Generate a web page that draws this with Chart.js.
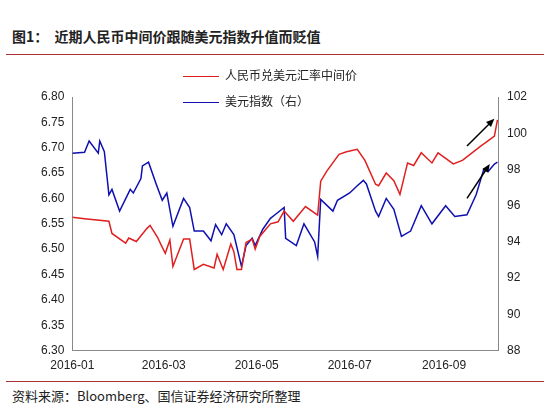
<!DOCTYPE html>
<html><head><meta charset="utf-8">
<script src="https://cdn.jsdelivr.net/npm/chart.js@4"></script>
<style>
body{margin:0;width:550px;height:413px;background:#fff;font-family:"Noto Sans CJK SC",sans-serif;position:relative;overflow:hidden}
#title{position:absolute;left:12px;top:26px;font-size:14px;font-weight:bold;color:#222}
#tl{position:absolute;left:6px;right:6px;top:54px;border-top:1.5px solid #a33}
#src{position:absolute;left:12px;top:386px;font-size:13px;color:#222}
#bl{position:absolute;left:6px;right:6px;top:381px;border-top:1px solid #a33}
#wrap{position:absolute;left:0;top:58px;width:530px;height:322px}
.lg{position:absolute;font-size:12px;color:#222}
.lg span{display:inline-block;width:36px;height:0;border-top:1.5px solid;vertical-align:middle;margin-right:6px}
</style></head><body>
<div id="title">图1：&nbsp;&nbsp;近期人民币中间价跟随美元指数升值而贬值</div>
<div id="tl"></div>
<div id="wrap"><canvas id="chart"></canvas></div>
<div class="lg" style="left:183px;top:66px"><span style="border-color:#e02020"></span>人民币兑美元汇率中间价</div>
<div class="lg" style="left:183px;top:92px"><span style="border-color:#1010b0"></span>美元指数（右）</div>
<div id="bl"></div>
<div id="src">资料来源：Bloomberg、国信证券经济研究所整理</div>
<script>
// days since 2016-01-01
const cnyDays = [0,8,24,26,35,37,42,49,51,56,58,61,64,66,73,77,80,86,93,95,99,104,106,108,111,114,118,120,123,130,135,139,145,153,161,163,167,175,180,187,192,199,201,206,211,215,220,224,229,236,240,250,256,268,273,277,279];
const cnyValues = [6.563,6.560,6.555,6.531,6.512,6.522,6.515,6.541,6.547,6.523,6.510,6.492,6.518,6.466,6.520,6.520,6.460,6.470,6.463,6.490,6.460,6.510,6.495,6.460,6.460,6.513,6.520,6.500,6.525,6.550,6.554,6.575,6.555,6.584,6.567,6.634,6.654,6.687,6.692,6.697,6.675,6.628,6.625,6.650,6.635,6.608,6.670,6.665,6.690,6.670,6.690,6.668,6.675,6.703,6.714,6.723,6.755];
const dxyDays = [0,8,11,17,18,21,24,26,31,38,40,45,46,50,55,59,62,66,73,77,80,86,91,94,98,101,106,111,114,118,120,125,130,133,139,140,147,152,159,161,163,171,174,182,187,191,193,199,201,206,211,216,222,229,236,245,251,259,265,270,273,277,279];
const dxyValues = [98.9,98.95,99.57,98.9,99.57,98.98,96.6,96.9,95.7,96.9,96.7,97.5,98.2,98.4,97.2,96.3,96.7,94.86,96.4,95.9,94.6,94.6,94.06,94.96,94.4,95.0,94.4,92.65,93.8,94.2,93.8,94.7,95.3,95.5,95.9,94.2,93.8,95.0,94.0,93.2,96.35,95.7,96.3,96.7,97.1,97.4,97.2,95.7,95.4,96.4,95.8,94.3,94.6,96.0,95.0,96.0,95.4,95.5,96.6,98.0,97.9,98.3,98.4];
const monthTicks = [0,60,121,182,244];
const monthLabels = ["2016-01","2016-03","2016-05","2016-07","2016-09"];
// arrows: [fromDay, fromValue(right axis), toDay, toValue]
const arrows = [[259,99.3,277,100.8],[259,96.4,274,98.3]];

const arrowPlugin = {
  id: "arrows",
  afterDatasetsDraw(c) {
    const ctx = c.ctx, x = c.scales.x, y = c.scales.y2;
    ctx.save();
    ctx.strokeStyle = "#000"; ctx.fillStyle = "#000"; ctx.lineWidth = 1.5;
    arrows.forEach(a => {
      const x1 = x.getPixelForValue(a[0]), y1 = y.getPixelForValue(a[1]);
      const x2 = x.getPixelForValue(a[2]), y2 = y.getPixelForValue(a[3]);
      const ang = Math.atan2(y2 - y1, x2 - x1);
      ctx.beginPath(); ctx.moveTo(x1, y1); ctx.lineTo(x2 - 6 * Math.cos(ang), y2 - 6 * Math.sin(ang)); ctx.stroke();
      ctx.beginPath(); ctx.moveTo(x2, y2);
      ctx.lineTo(x2 - 9 * Math.cos(ang - 0.4), y2 - 9 * Math.sin(ang - 0.4));
      ctx.lineTo(x2 - 9 * Math.cos(ang + 0.4), y2 - 9 * Math.sin(ang + 0.4));
      ctx.closePath(); ctx.fill();
    });
    ctx.restore();
  }
};

const tickFont = { family: "Arial, Liberation Sans", size: 12 };
new Chart(document.getElementById("chart"), {
  type: "line",
  data: { datasets: [
    { label: "人民币兑美元汇率中间价", data: cnyDays.map((d, i) => ({ x: d, y: cnyValues[i] })),
      borderColor: "#e02020", borderWidth: 1.5, pointRadius: 0, yAxisID: "y" },
    { label: "美元指数（右）", data: dxyDays.map((d, i) => ({ x: d, y: dxyValues[i] })),
      borderColor: "#1010b0", borderWidth: 1.5, pointRadius: 0, yAxisID: "y2" }
  ]},
  options: {
    responsive: true, maintainAspectRatio: false, animation: false,
    layout: { padding: { top: 39, right: 0, left: 38, bottom: 4 } },
    plugins: { legend: { display: false }, tooltip: { enabled: false } },
    scales: {
      x: { type: "linear", min: 0, max: 280,
        afterBuildTicks: s => { s.ticks = monthTicks.map(v => ({ value: v })); },
        ticks: { color: "#222", font: tickFont, maxRotation: 0, callback: v => monthLabels[monthTicks.indexOf(v)] },
        grid: { display: false, drawTicks: true, tickLength: 5, color: "#888" },
        border: { color: "#888" } },
      y: { position: "left", min: 6.30, max: 6.80,
        ticks: { stepSize: 0.05, color: "#222", font: tickFont, callback: v => v.toFixed(2) },
        grid: { display: false, tickLength: 5 }, border: { color: "#888" } },
      y2: { position: "right", min: 88, max: 102, afterFit: s => { s.width += 0; },
        ticks: { stepSize: 2, color: "#222", font: tickFont },
        grid: { display: false, tickLength: 5 }, border: { color: "#888" } }
    }
  },
  plugins: [arrowPlugin]
});
</script>
</body></html>
